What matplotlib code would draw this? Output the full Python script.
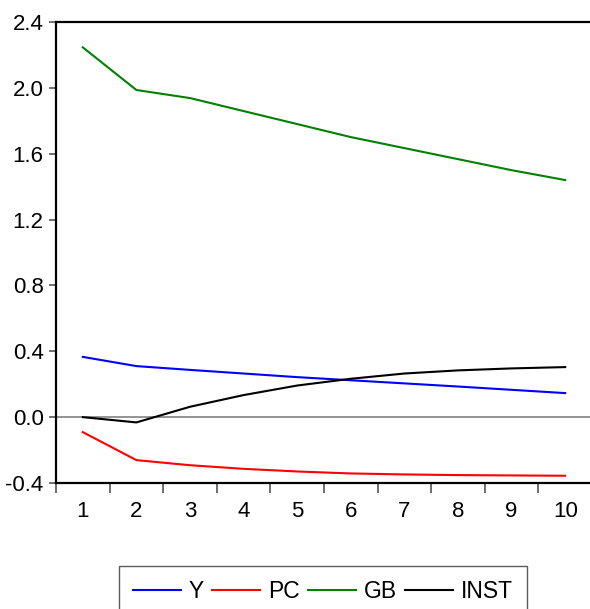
import numpy as np
import matplotlib
matplotlib.use('Agg')
from matplotlib import pyplot as plt
from matplotlib.ticker import FixedLocator

plt.rcParams['font.family'] = ['Liberation Sans', 'DejaVu Sans']

# 脉冲响应数据 (periods 1-10)
periods = [1, 2, 3, 4, 5, 6, 7, 8, 9, 10]
y_vals = [0.366, 0.310, 0.287, 0.265, 0.243, 0.224, 0.205, 0.186, 0.166, 0.146]
pc_vals = [-0.091, -0.261, -0.292, -0.314, -0.330, -0.342, -0.348, -0.352, -0.354, -0.356]
gb_vals = [2.246, 1.987, 1.938, 1.859, 1.780, 1.701, 1.634, 1.567, 1.500, 1.440]
inst_vals = [0.0, -0.032, 0.063, 0.134, 0.192, 0.233, 0.265, 0.284, 0.296, 0.304]
series_names = ['Y', 'PC', 'GB', 'INST']
series_colors = ['#0000ff', '#ff0000', '#008000', '#000000']
y_ticks = [-0.4, 0.0, 0.4, 0.8, 1.2, 1.6, 2.0, 2.4]

fig = plt.figure(figsize=(5.9, 6.09), dpi=100)
ax = fig.add_axes([56/590, 1-483/609, 536/590, 461/609])

ax.axhline(0, color='#808080', lw=1.2, zorder=1)
for vals, name, col in zip([y_vals, pc_vals, gb_vals, inst_vals], series_names, series_colors):
    ax.plot(periods, vals, color=col, lw=1.5, label=name, zorder=2)

ax.set_xlim(0.5, 10.5)
ax.set_ylim(-0.4, 2.4)
ax.set_yticks(y_ticks)
ax.set_yticklabels(['%.1f' % t for t in y_ticks])
ax.set_xticks(periods)
ax.xaxis.set_minor_locator(FixedLocator(np.arange(0.5, 11, 1)))
ax.tick_params(axis='x', which='major', length=0, pad=13, labelsize=16)
ax.tick_params(axis='x', which='minor', length=7.2, width=1.2, color='#555555', direction='out')
ax.tick_params(axis='y', length=5, width=1.2, color='#555555', pad=4, labelsize=16)
ax.spines['right'].set_visible(False)
for s in ['left', 'top', 'bottom']:
    ax.spines[s].set_linewidth(1.6)
    ax.spines[s].set_color('black')

leg = fig.legend(loc='upper center', bbox_to_anchor=(323/590, 1-566/609), ncol=4,
                 fontsize=16.5, frameon=True, fancybox=False, edgecolor='#333333',
                 handlelength=2.1, handletextpad=0.35, columnspacing=0.35,
                 borderpad=0.6, borderaxespad=0)
leg.get_frame().set_linewidth(1.0)

fig.savefig('out.png', dpi=100)
